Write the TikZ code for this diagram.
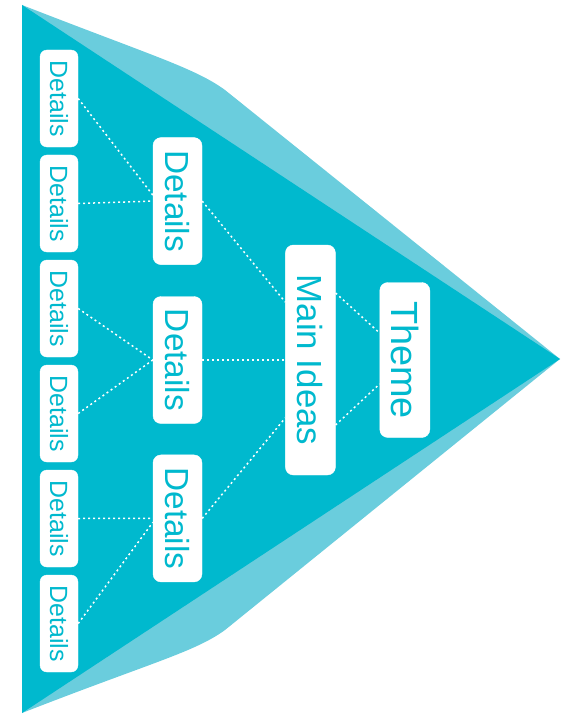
\documentclass[tikz,border=0pt]{standalone}
\usepackage{graphicx}
\usepackage{fontspec}
\setmainfont{Liberation Sans}
\usepackage{tikz}
\usetikzlibrary{positioning}

\definecolor{tealdark}{RGB}{0,185,206}
\definecolor{teallight}{RGB}{106,205,221}

\begin{document}
\begin{tikzpicture}[
    x=1bp, y=-1bp,
    box/.style={rectangle, draw=white, fill=white, rounded corners=8bp, inner sep=0pt, text=tealdark},
    smallbox/.style={box, rounded corners=7bp, minimum width=38bp, minimum height=97bp, font=\fontsize{25}{25}\selectfont},
    midbox/.style={box, minimum width=49bp, minimum height=127bp, font=\fontsize{33.5}{33.5}\selectfont},
    link/.style={white, line width=1.5bp, dash pattern=on 2bp off 3bp},
]
\useasboundingbox (0,0) rectangle (576,716);

% Background: light band and dark triangle
\fill[teallight] (22,5) .. controls (150,55) and (195,68) .. (225,90) -- (560,359)
    -- (225,630) .. controls (195,652) and (150,663) .. (22,713) -- cycle;
\fill[tealdark] (22,5) -- (560,359) -- (22,713) -- cycle;

% Left column: details
\node[smallbox] (d1) at (59,98.5) {\rotatebox{-90}{Details}};
\node[smallbox, below=7.6bp of d1] (d2) {\rotatebox{-90}{Details}};
\node[smallbox, below=7.6bp of d2] (d3) {\rotatebox{-90}{Details}};
\node[smallbox, below=7.6bp of d3] (d4) {\rotatebox{-90}{Details}};
\node[smallbox, below=7.6bp of d4] (d5) {\rotatebox{-90}{Details}};
\node[smallbox, below=7.6bp of d5] (d6) {\rotatebox{-90}{Details}};

% Middle column
\node[midbox] (mid2) at (177.5,360) {\rotatebox{-90}{Details}};
\node[midbox, above=31.5bp of mid2] (mid1) {\rotatebox{-90}{Details}};
\node[midbox, below=31bp of mid2] (mid3) {\rotatebox{-90}{Details}};

% Main ideas and theme
\node[box, right=83bp of mid2, minimum width=50bp, minimum height=230bp, font=\fontsize{35}{35}\selectfont] (main) {\rotatebox{-90}{Main Ideas}};
\node[box, right=44bp of main, minimum width=50bp, minimum height=155bp, font=\fontsize{38}{38}\selectfont] (theme) {\rotatebox{-90}{Theme}};

% Links
\draw[link] (d1.east) -- ([yshift=6bp]mid1.west);
\draw[link] (d2.east) -- (mid1.west);
\draw[link] (d3.east) -- (mid2.west);
\draw[link] (d4.east) -- (mid2.west);
\draw[link] (d5.east) -- (mid3.west);
\draw[link] (d6.east) -- ([yshift=-4bp]mid3.west);
\draw[link] (mid1.east) -- ([yshift=58bp]main.west);
\draw[link] (mid2.east) -- (main.west);
\draw[link] (mid3.east) -- ([yshift=-58bp]main.west);
\draw[link] ([yshift=67bp]main.east) -- ([yshift=27bp]theme.west);
\draw[link] ([yshift=-65bp]main.east) -- ([yshift=-24bp]theme.west);

\end{tikzpicture}
\end{document}
